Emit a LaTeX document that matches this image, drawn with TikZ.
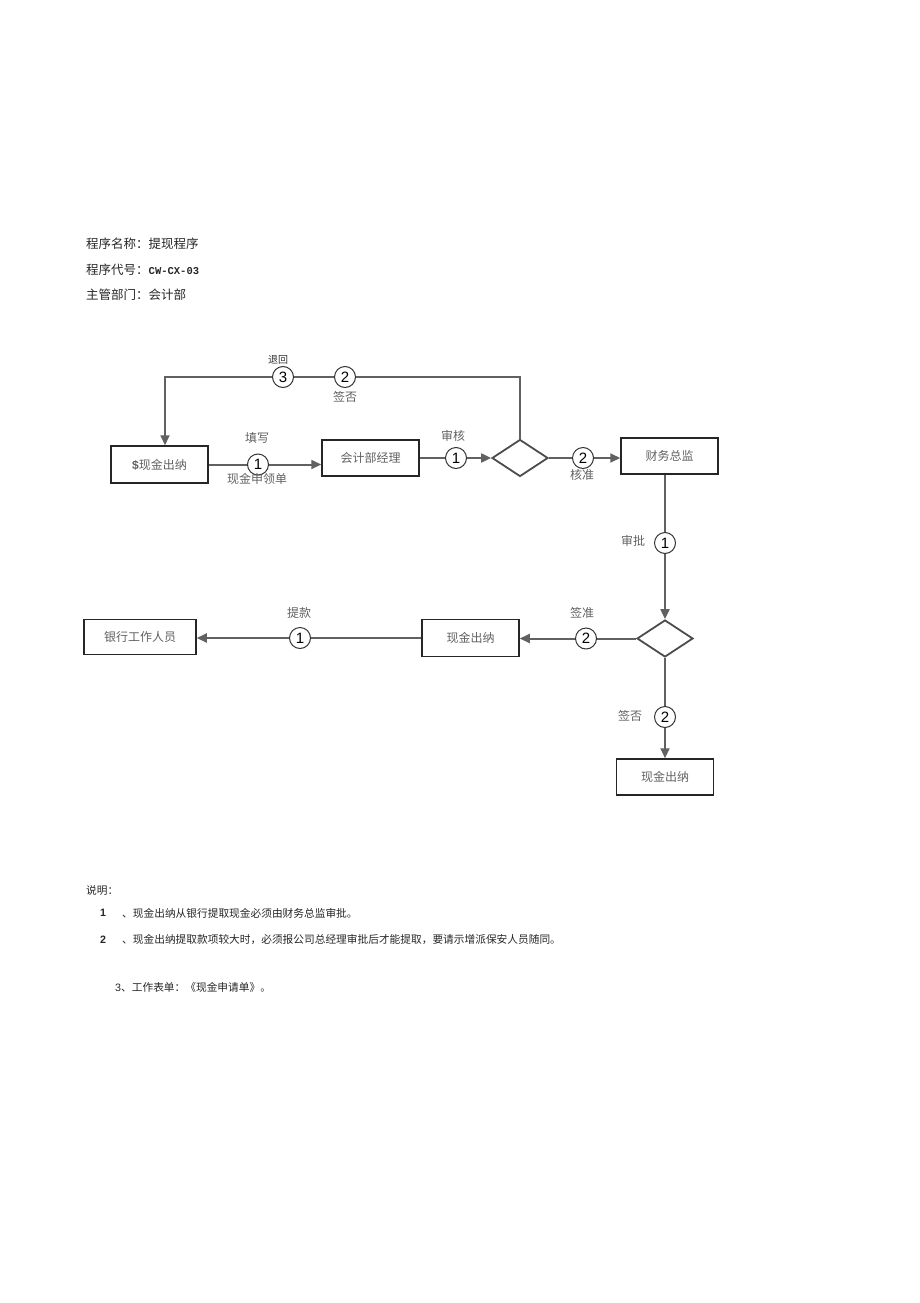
\documentclass[tikz,border=0pt]{standalone}
\usepackage{fontspec}
\setmainfont{Noto Sans CJK SC}
\newfontfamily\numfont{Liberation Sans}
\newfontfamily\codefont{Liberation Mono}
\usetikzlibrary{arrows.meta,shapes.geometric}

\tikzset{
  box/.style={draw=black!85, line width=1.5pt, minimum width=97pt, minimum height=36pt,
    inner sep=0pt, text=black!62, font=\fontsize{12}{14}\selectfont},
  choice/.style={diamond, draw=black!70, line width=1.8pt, minimum width=56pt,
    minimum height=37pt, inner sep=0pt},
  num/.style={circle, draw=black!80, fill=white, line width=1pt, minimum size=21pt,
    inner sep=0pt, font=\numfont\fontsize{15}{15}\selectfont},
  flow/.style={draw=black!62, line width=2pt},
  arr/.style={flow, -{Triangle[length=10pt,width=9pt]}},
  lbl/.style={text=black!62, font=\fontsize{12}{14}\selectfont},
  txt/.style={anchor=west, inner sep=0pt, text=black!85}
}

\begin{document}
\begin{tikzpicture}[x=1pt,y=-1pt]
  \useasboundingbox (0,0) rectangle (920,1303);

  % header
  \node[txt, font=\fontsize{12.5}{14}\selectfont] (name) at (86,244) {程序名称：提现程序};
  \node[txt, font=\fontsize{12.5}{14}\selectfont] (code) at (86,270) {程序代号：{\codefont\bfseries\fontsize{10.5}{12}\selectfont CW-CX-03}};
  \node[txt, font=\fontsize{12.5}{14}\selectfont] (dept) at (86,295) {主管部门：会计部};

  % boxes and choices
  \node[box, minimum height=37pt] (clerk) at (159.5,464.5) {{\numfont\bfseries\$}现金出纳};
  \node[box] (manager) at (370.5,458) {会计部经理};
  \node[choice] (check1) at (520,458) {};
  \node[box] (director) at (669.5,456) {财务总监};
  \node[choice] (check2) at (665,638.5) {};
  \node[box, minimum height=37pt] (cashier) at (470.5,638) {现金出纳};
  \node[box, minimum width=112pt, minimum height=35pt] (bank) at (140,637) {银行工作人员};
  \node[box] (payout) at (665,777) {现金出纳};

  \coordinate (loop) at (165,377);

  % connectors
  \draw[arr] (clerk.east) -- (clerk.east -| manager.west);
  \draw[arr] (manager.east) -- (check1.west);
  \draw[arr] (check1.east) -- (check1.east -| director.west);
  \draw[arr] (check1.north) |- (loop) -- (loop |- clerk.north);
  \draw[arr] (check2.north |- director.south) -- (check2.north);
  \draw[arr] (check2.west) -- (check2.west -| cashier.east);
  \draw[arr] (cashier.west) -- (cashier.west -| bank.east);
  \draw[arr] (check2.south) -- (payout.north);

  % step numbers
  \node[num] (n1) at (258,464.5) {1};
  \node[num] (n2) at (456,458) {1};
  \node[num] (n3) at (583,458) {2};
  \node[num] (n4) at (283,377) {3};
  \node[num] (n5) at (345,377) {2};
  \node[num] (n6) at (665,543) {1};
  \node[num] (n7) at (586,638.5) {2};
  \node[num] (n8) at (300,638) {1};
  \node[num] (n9) at (665,717) {2};

  % labels
  \node[lbl, text=black!80, font=\fontsize{10}{12}\selectfont] (back) at (278,360) {退回};
  \node[lbl] (no1) at (345,397) {签否};
  \node[lbl] (fill) at (257,438) {填写};
  \node[lbl] (form) at (257,479) {现金申领单};
  \node[lbl] (audit) at (453,436) {审核};
  \node[lbl] (ok1) at (582,475) {核准};
  \node[lbl] (approve) at (633,541) {审批};
  \node[lbl] (ok2) at (582,613) {签准};
  \node[lbl] (draw) at (299,613) {提款};
  \node[lbl] (no2) at (630,716) {签否};

  % notes
  \node[txt, font=\fontsize{10.7}{12}\selectfont] (notes) at (86,890) {说明：};
  \node[txt, font=\numfont\bfseries\fontsize{10.7}{12}\selectfont] (i1) at (100,913) {1};
  \node[txt, font=\fontsize{10.7}{12}\selectfont] (t1) at (122,913) {、现金出纳从银行提取现金必须由财务总监审批。};
  \node[txt, font=\numfont\bfseries\fontsize{10.7}{12}\selectfont] (i2) at (100,940) {2};
  \node[txt, font=\fontsize{10.7}{12}\selectfont] (t2) at (122,940) {、现金出纳提取款项较大时，必须报公司总经理审批后才能提取，要请示增派保安人员随同。};
  \node[txt, font=\fontsize{10.7}{12}\selectfont] (t3) at (115,987) {{\numfont 3}、工作表单：《现金申请单》。};
\end{tikzpicture}
\end{document}
